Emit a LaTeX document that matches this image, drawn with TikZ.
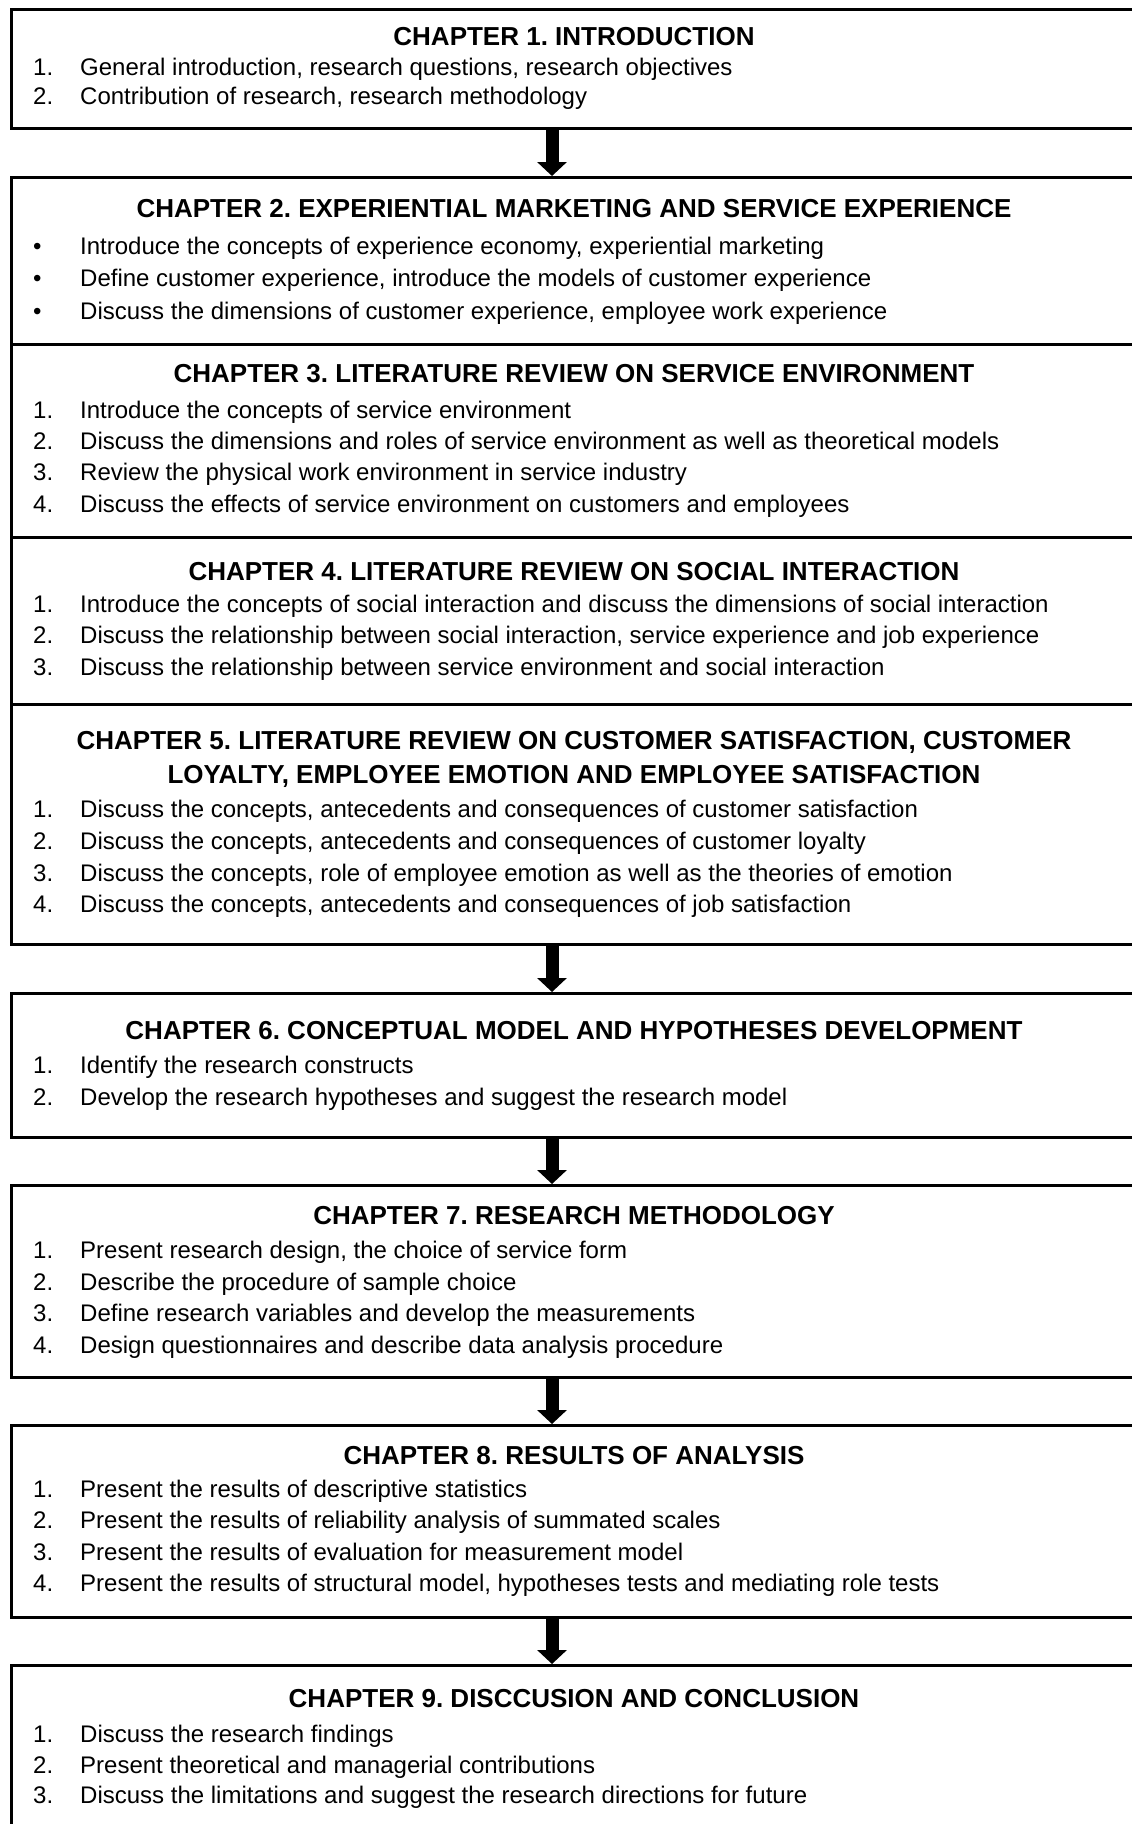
\documentclass[tikz,border=0pt]{standalone}
\usepackage{fontspec}
\setmainfont{Liberation Sans}
\usetikzlibrary{arrows.meta}
\frenchspacing
\tikzset{
  box/.style={draw=black, line width=2.5pt, rectangle, minimum width=1128pt, inner sep=0pt, anchor=north west},
  titletxt/.style={inner sep=0pt, anchor=base, font=\fontsize{26pt}{30pt}\selectfont\bfseries},
  itemtxt/.style={inner sep=0pt, anchor=base west, font=\fontsize{24pt}{28pt}\selectfont},
  bigarrow/.style={line width=13pt, -{Triangle[width=29pt,length=14pt]}}
}
\newcommand\rowitem[4]{%
  \node[itemtxt] (#1n) at (33,#2) {#3};
  \node[itemtxt] (#1t) at (80,#2) {#4};}
\begin{document}
\begin{tikzpicture}[x=1pt,y=-1pt]
\useasboundingbox (0,0) rectangle (1132,1824);
\fill[white] (0,0) rectangle (1132,1824);
\clip (0,0) rectangle (1132,1824);
% boxes
\node[box, minimum height=119pt] (b1) at (10,8) {};
\node[box, minimum height=167pt] (b2) at (10,176) {};
\node[box, minimum height=193pt] (b3) at (10,343) {};
\node[box, minimum height=167pt] (b4) at (10,536) {};
\node[box, minimum height=240pt] (b5) at (10,703) {};
\node[box, minimum height=144pt] (b6) at (10,992) {};
\node[box, minimum height=192pt] (b7) at (10,1184) {};
\node[box, minimum height=192pt] (b8) at (10,1424) {};
\node[box, minimum height=180pt] (b9) at (10,1664) {};
% arrows
\coordinate (ax) at (552,0);
\draw[bigarrow] (b1.south -| ax) -- (b2.north -| ax);
\draw[bigarrow] (b5.south -| ax) -- (b6.north -| ax);
\draw[bigarrow] (b6.south -| ax) -- (b7.north -| ax);
\draw[bigarrow] (b7.south -| ax) -- (b8.north -| ax);
\draw[bigarrow] (b8.south -| ax) -- (b9.north -| ax);
% chapter 1
\node[titletxt] (h1) at (574,45) {CHAPTER 1. INTRODUCTION};
\rowitem{c1a}{75}{1.}{General introduction, research questions, research objectives}
\rowitem{c1b}{104}{2.}{Contribution of research, research methodology}
% chapter 2
\node[titletxt] (h2) at (574,217) {CHAPTER 2. EXPERIENTIAL MARKETING AND SERVICE EXPERIENCE};
\rowitem{c2a}{254}{•}{Introduce the concepts of experience economy, experiential marketing}
\rowitem{c2b}{286}{•}{Define customer experience, introduce the models of customer experience}
\rowitem{c2c}{319}{•}{Discuss the dimensions of customer experience, employee work experience}
% chapter 3
\node[titletxt] (h3) at (574,382) {CHAPTER 3. LITERATURE REVIEW ON SERVICE ENVIRONMENT};
\rowitem{c3a}{418}{1.}{Introduce the concepts of service environment}
\rowitem{c3b}{449}{2.}{Discuss the dimensions and roles of service environment as well as theoretical models}
\rowitem{c3c}{480}{3.}{Review the physical work environment in service industry}
\rowitem{c3d}{512}{4.}{Discuss the effects of service environment on customers and employees}
% chapter 4
\node[titletxt] (h4) at (574,580) {CHAPTER 4. LITERATURE REVIEW ON SOCIAL INTERACTION};
\rowitem{c4a}{612}{1.}{Introduce the concepts of social interaction and discuss the dimensions of social interaction}
\rowitem{c4b}{643}{2.}{Discuss the relationship between social interaction, service experience and job experience}
\rowitem{c4c}{675}{3.}{Discuss the relationship between service environment and social interaction}
% chapter 5
\node[titletxt] (h5a) at (574,749) {CHAPTER 5. LITERATURE REVIEW ON CUSTOMER SATISFACTION, CUSTOMER};
\node[titletxt] (h5b) at (574,783) {LOYALTY, EMPLOYEE EMOTION AND EMPLOYEE SATISFACTION};
\rowitem{c5a}{817}{1.}{Discuss the concepts, antecedents and consequences of customer satisfaction}
\rowitem{c5b}{849}{2.}{Discuss the concepts, antecedents and consequences of customer loyalty}
\rowitem{c5c}{881}{3.}{Discuss the concepts, role of employee emotion as well as the theories of emotion}
\rowitem{c5d}{912}{4.}{Discuss the concepts, antecedents and consequences of job satisfaction}
% chapter 6
\node[titletxt] (h6) at (574,1039) {CHAPTER 6. CONCEPTUAL MODEL AND HYPOTHESES DEVELOPMENT};
\rowitem{c6a}{1073}{1.}{Identify the research constructs}
\rowitem{c6b}{1105}{2.}{Develop the research hypotheses and suggest the research model}
% chapter 7
\node[titletxt] (h7) at (574,1224) {CHAPTER 7. RESEARCH METHODOLOGY};
\rowitem{c7a}{1258}{1.}{Present research design, the choice of service form}
\rowitem{c7b}{1290}{2.}{Describe the procedure of sample choice}
\rowitem{c7c}{1321}{3.}{Define research variables and develop the measurements}
\rowitem{c7d}{1353}{4.}{Design questionnaires and describe data analysis procedure}
% chapter 8
\node[titletxt] (h8) at (574,1464) {CHAPTER 8. RESULTS OF ANALYSIS};
\rowitem{c8a}{1497}{1.}{Present the results of descriptive statistics}
\rowitem{c8b}{1528}{2.}{Present the results of reliability analysis of summated scales}
\rowitem{c8c}{1560}{3.}{Present the results of evaluation for measurement model}
\rowitem{c8d}{1591}{4.}{Present the results of structural model, hypotheses tests and mediating role tests}
% chapter 9
\node[titletxt] (h9) at (574,1707) {CHAPTER 9. DISCCUSION AND CONCLUSION};
\rowitem{c9a}{1742}{1.}{Discuss the research findings}
\rowitem{c9b}{1773}{2.}{Present theoretical and managerial contributions}
\rowitem{c9c}{1803}{3.}{Discuss the limitations and suggest the research directions for future}
\end{tikzpicture}
\end{document}
